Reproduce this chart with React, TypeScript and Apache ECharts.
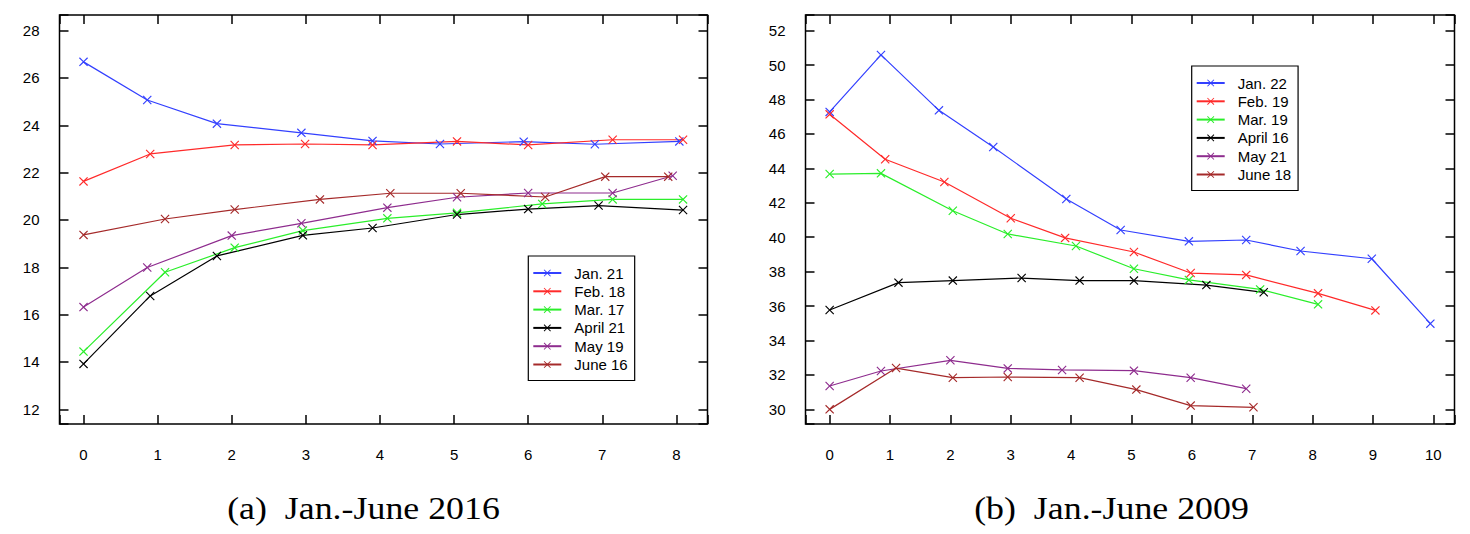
import { useEffect, useRef } from 'react';
import * as echarts from 'echarts';

// (a) Jan.-June 2016, points as [x, value]
const names2016 = ['Jan. 21', 'Feb. 18', 'Mar. 17', 'April 21', 'May 19', 'June 16'];
const jan21 = [[0, 26.68], [0.86, 25.07], [1.8, 24.07], [2.94, 23.68], [3.9, 23.34], [4.81, 23.21], [5.94, 23.31], [6.9, 23.2], [8.04, 23.32]];
const feb18 = [[0, 21.63], [0.9, 22.79], [2.04, 23.17], [2.99, 23.21], [3.9, 23.17], [5.04, 23.32], [6.0, 23.17], [7.14, 23.39], [8.09, 23.39]];
const mar17 = [[0, 14.44], [1.1, 17.79], [2.04, 18.83], [2.96, 19.55], [4.1, 20.07], [5.04, 20.3], [6.19, 20.68], [7.14, 20.87], [8.09, 20.87]];
const apr21 = [[0, 13.92], [0.9, 16.79], [1.8, 18.48], [2.96, 19.35], [3.9, 19.66], [5.04, 20.23], [6.0, 20.46], [6.95, 20.61], [8.09, 20.42]];
const may19 = [[0, 16.32], [0.86, 17.99], [2.0, 19.34], [2.94, 19.86], [4.1, 20.52], [5.04, 20.96], [6.0, 21.14], [7.14, 21.14], [7.95, 21.87]];
const jun16 = [[0, 19.37], [1.1, 20.04], [2.04, 20.44], [3.19, 20.87], [4.14, 21.13], [5.09, 21.13], [6.23, 20.97], [7.04, 21.83], [7.89, 21.83]];

// (b) Jan.-June 2009
const names2009 = ['Jan. 22', 'Feb. 19', 'Mar. 19', 'April 16', 'May 21', 'June 18'];
const jan22 = [[0, 47.28], [0.85, 50.59], [1.81, 47.37], [2.71, 45.24], [3.92, 42.22], [4.82, 40.42], [5.95, 39.76], [6.9, 39.84], [7.8, 39.2], [8.98, 38.75], [9.95, 34.98]];
const feb19 = [[0, 47.14], [0.92, 44.53], [1.9, 43.21], [3.0, 41.1], [3.9, 39.96], [5.04, 39.14], [5.98, 37.92], [6.9, 37.81], [8.09, 36.74], [9.04, 35.75]];
const mar19 = [[0, 43.67], [0.85, 43.71], [2.04, 41.54], [2.95, 40.19], [4.08, 39.49], [5.04, 38.17], [5.95, 37.52], [7.13, 36.97], [8.09, 36.1]];
const apr16 = [[0, 35.77], [1.14, 37.36], [2.04, 37.48], [3.18, 37.63], [4.14, 37.48], [5.04, 37.48], [6.24, 37.22], [7.19, 36.8]];
const may21 = [[0, 31.36], [0.85, 32.23], [2.0, 32.85], [2.95, 32.38], [3.85, 32.29], [5.04, 32.25], [5.98, 31.84], [6.9, 31.2]];
const jun18 = [[0, 30.0], [1.1, 32.4], [2.04, 31.84], [2.95, 31.88], [4.14, 31.84], [5.08, 31.15], [5.98, 30.22], [7.02, 30.12]];

const colors = ['#3340ff', '#ff2a2a', '#2aee2a', '#000000', '#8e2c8e', '#a52a2a'];

// thin "x" marker drawn as a filled outline
const cross = 'path://M0 0.9L0.9 0L5 4.1L9.1 0L10 0.9L5.9 5L10 9.1L9.1 10L5 5.9L0.9 10L0 9.1L4.1 5Z';

const font = 'Liberation Sans';
const captionFont = 'Liberation Serif';

export default function App() {
  const chartRef = useRef<HTMLDivElement>(null);

  useEffect(() => {
    if (!chartRef.current) return;
    const chart = echarts.init(chartRef.current, null, { renderer: 'svg' });

    const intLabel = (v: number) => (Math.abs(v - Math.round(v)) < 1e-6 ? String(Math.round(v)) : '');
    const tick = { show: true, inside: true, length: 9, lineStyle: { color: '#000', width: 1.5 } };

    const xAx = (grid: number, min: number, max: number, top: boolean) => ({
      type: 'value', gridIndex: grid, min, max, minInterval: 1, maxInterval: 1,
      position: top ? 'top' : 'bottom',
      axisLine: { show: false, onZero: false }, splitLine: { show: false }, axisTick: tick,
      axisLabel: { show: !top, margin: 23, color: '#000', fontSize: 15, fontFamily: font, formatter: intLabel },
    });
    const yAx = (grid: number, min: number, max: number, right: boolean) => ({
      type: 'value', gridIndex: grid, min, max, minInterval: 2, maxInterval: 2,
      position: right ? 'right' : 'left',
      axisLine: { show: false, onZero: false }, splitLine: { show: false }, axisTick: tick,
      axisLabel: { show: !right, margin: 20, color: '#000', fontSize: 15, fontFamily: font, formatter: intLabel },
    });

    const mk = (name: string, data: number[][], i: number, grid: number) => ({
      type: 'line', name, data, xAxisIndex: grid * 2, yAxisIndex: grid * 2,
      symbol: cross, symbolSize: 9, showAllSymbol: true, silent: true,
      lineStyle: { color: colors[i], width: 1.2 },
      itemStyle: { color: colors[i] },
      emphasis: { disabled: true },
    });

    const legend = (names: string[], left: number, top: number) => ({
      orient: 'vertical', left, top, data: names,
      padding: [9, 7, 8, 4], itemWidth: 28, itemHeight: 9, itemGap: 2.3,
      borderColor: '#000', borderWidth: 1.2, borderRadius: 0,
      selectedMode: false,
      textStyle: { color: '#000', fontSize: 15, fontFamily: font, lineHeight: 16, padding: [0, 0, 0, 8] },
    });

    const caption = (text: string, x: number) => ({
      type: 'text', x, y: 508, scaleX: 1.12, silent: true,
      style: { text, fontSize: 32, fontFamily: captionFont, fill: '#000', align: 'center', verticalAlign: 'middle' },
    });

    const option = {
      animation: false,
      backgroundColor: '#fff',
      grid: [
        { left: 59.5, top: 15, width: 648, height: 409, show: true, borderColor: '#000', borderWidth: 1.5, backgroundColor: 'transparent' },
        { left: 805.5, top: 15, width: 649, height: 409, show: true, borderColor: '#000', borderWidth: 1.5, backgroundColor: 'transparent' },
      ],
      xAxis: [
        xAx(0, -0.324, 8.42, false), xAx(0, -0.324, 8.42, true),
        xAx(1, -0.4, 10.35, false), xAx(1, -0.4, 10.35, true),
      ],
      yAxis: [
        yAx(0, 11.38, 28.66, false), yAx(0, 11.38, 28.66, true),
        yAx(1, 29.15, 52.91, false), yAx(1, 29.15, 52.91, true),
      ],
      legend: [legend(names2016, 528.3, 256), legend(names2009, 1191.7, 66)],
      series: [
        ...[jan21, feb18, mar17, apr21, may19, jun16].map((d, i) => mk(names2016[i], d, i, 0)),
        ...[jan22, feb19, mar19, apr16, may21, jun18].map((d, i) => mk(names2009[i], d, i, 1)),
      ],
      graphic: [
        caption('(a)  Jan.-June 2016', 363.5),
        caption('(b)  Jan.-June 2009', 1111.5),
      ],
    };

    chart.setOption(option as any);

    return () => {
      chart.dispose();
    };
  }, []);

  return (
    <div ref={chartRef} style={{ position: 'absolute', left: 0, top: 0, width: 1470, height: 534 }}></div>
  );
}
